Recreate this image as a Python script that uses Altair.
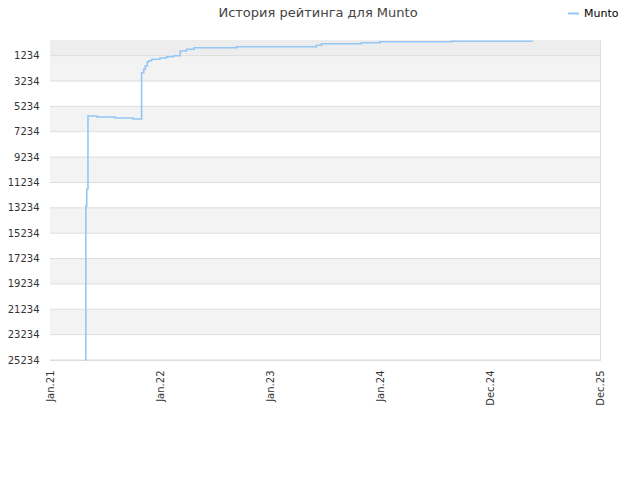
import altair as alt
import pandas as pd

# ---- data ----
dates = ["2021-04-29", "2021-04-30", "2021-05-03", "2021-05-07", "2021-06-06",
         "2021-08-05", "2021-10-03", "2021-11-01", "2021-11-08", "2021-11-13",
         "2021-11-20", "2021-11-25", "2021-12-04", "2022-01-01", "2022-01-23",
         "2022-02-15", "2022-03-09", "2022-03-30", "2022-04-24", "2022-09-12",
         "2023-06-04", "2023-06-21", "2023-10-31", "2024-01-01", "2024-08-26",
         "2025-05-22"]
ranks = [25234, 13090, 11750, 5994, 6072,
         6151, 6230, 2580, 2311, 2051,
         1712, 1633, 1523, 1420, 1318,
         1240, 868, 734, 608, 529,
         419, 293, 214, 135, 95,
         95]
series = ["Munto"] * len(dates)

y_ticks = [1234, 3234, 5234, 7234, 9234, 11234, 13234, 15234, 17234, 19234, 21234, 23234, 25234]
y_min, y_max = 1, 25234
x_ticks = ["2021-01-01", "2022-01-01", "2023-01-01", "2024-01-01", "2024-12-31", "2025-12-31"]

line_df = pd.DataFrame({"date": dates, "rank": ranks, "series": series})

# alternating bands built from the tick list
band_lo = [y_min] + y_ticks[:-1]
band_hi = y_ticks
band_kind = ["top"] + ["odd" if i % 2 == 0 else "even" for i in range(len(y_ticks) - 1)]
bands_df = pd.DataFrame({"lo": band_lo, "hi": band_hi, "kind": band_kind})
grid_df = pd.DataFrame({"tick": y_ticks})

FONT = "DejaVu Sans"
LINE_COLOR = "#94c6f6"

y_scale = alt.Scale(domain=[y_min, y_max], reverse=True, nice=False, zero=False)
x_scale = alt.Scale(type="utc", domain=[x_ticks[0], x_ticks[-1]], nice=False)

y_axis = alt.Axis(values=y_ticks, format="d", labelFont=FONT, labelFontSize=10,
                  labelColor="#333333", ticks=False, labelPadding=11,
                  domainColor="#dddddd", grid=False)

x_values = [alt.DateTime(year=int(d[:4]), month=int(d[5:7]), date=int(d[8:]), utc=True) for d in x_ticks]
x_axis = alt.Axis(values=x_values, labelExpr="utcFormat(datum.value, '%b.%y')",
                  labelAngle=270, labelFont=FONT, labelFontSize=10, labelColor="#333333",
                  ticks=False, labelPadding=10, domainColor="#dddddd", grid=False,
                  labelOverlap=False)

bands = alt.Chart(bands_df).mark_rect().encode(
    x=alt.value(0),
    x2=alt.value("width"),
    y=alt.Y("lo:Q", scale=y_scale, axis=y_axis, title=None),
    y2="hi:Q",
    color=alt.Color("kind:N", scale=alt.Scale(domain=["top", "odd", "even"],
                                              range=["#ededed", "#f3f3f3", "#ffffff"]),
                    legend=None),
)

grid = alt.Chart(grid_df).mark_rule(color="#dddddd", strokeWidth=1).encode(
    x=alt.value(0),
    x2=alt.value("width"),
    y=alt.Y("tick:Q", scale=y_scale, axis=y_axis, title=None),
)

line = alt.Chart(line_df).mark_line(interpolate="step-after", strokeWidth=1.6).encode(
    x=alt.X("date:T", scale=x_scale, title=None, axis=x_axis),
    y=alt.Y("rank:Q", scale=y_scale, title=None, axis=y_axis),
    color=alt.Color("series:N", scale=alt.Scale(domain=["Munto"], range=[LINE_COLOR]),
                    legend=alt.Legend(title=None, orient="none", legendX=517, legendY=-33,
                                      symbolType="stroke", symbolStrokeWidth=2, symbolSize=120,
                                      labelFont=FONT, labelFontSize=11, labelColor="#000000")),
)

chart = alt.layer(bands, grid, line).resolve_scale(color="independent").properties(
    width=550,
    height=320,
    padding={"left": 42, "top": 32, "right": 32, "bottom": 112},
    autosize=alt.AutoSizeParams(type="none"),
    title=alt.TitleParams("История рейтинга для Munto", font=FONT, fontSize=13,
                          fontWeight="normal", color="#444444", anchor="middle",
                          baseline="alphabetic", offset=0, dy=23, dx=-7),
).configure_view(stroke="#dddddd", strokeWidth=1)

chart.save("out.html", embed_options={"renderer": "svg", "actions": False})
